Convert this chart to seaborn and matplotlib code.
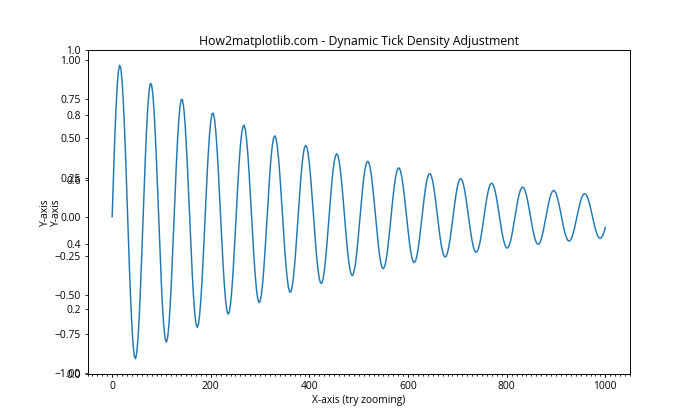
import pandas as pd
import matplotlib
matplotlib.use("Agg")
import matplotlib.pyplot as plt
from matplotlib.ticker import MultipleLocator
import seaborn as sns

#### DATA

# samples at x = 0, 5, 10, ... 1000
x_grid = list(range(0, 1001, 5))
y_grid = [
    0.000, 0.475, 0.825, 0.968, 0.874, 0.569, 0.133, -0.327, -0.699, -0.893,
    -0.868, -0.632, -0.248, 0.189, 0.571, 0.807, 0.843, 0.674, 0.344, -0.062,
    -0.445, -0.713, -0.803, -0.696, -0.422, -0.052, 0.324, 0.614, 0.749, 0.700,
    0.482, 0.152, -0.209, -0.512, -0.684, -0.688, -0.524, -0.237, 0.103, 0.410,
    0.612, 0.662, 0.550, 0.307, -0.006, -0.311, -0.534, -0.624, -0.560, -0.362,
    -0.080, 0.216, 0.453, 0.576, 0.557, 0.404, 0.155, -0.127, -0.372, -0.522,
    -0.542, -0.431, -0.217, 0.045, 0.291, 0.461, 0.517, 0.446, 0.268, 0.029,
    -0.212, -0.397, -0.483, -0.449, -0.307, -0.093, 0.139, 0.332, 0.442, 0.442,
    0.335, 0.149, -0.070, -0.267, -0.396, -0.426, -0.352, -0.194, 0.007, 0.203,
    0.346, 0.402, 0.359, 0.230, 0.048, -0.142, -0.294, -0.372, -0.358, -0.258,
    -0.097, 0.085, 0.242, 0.337, 0.349, 0.276, 0.137, -0.032, -0.190, -0.299,
    -0.333, -0.286, -0.170, -0.016, 0.140, 0.258, 0.311, 0.288, 0.196, 0.058,
    -0.092, -0.216, -0.285, -0.284, -0.214, -0.093, 0.048, 0.174, 0.256, 0.274,
    0.225, 0.123, -0.007, -0.133, -0.224, -0.259, -0.230, -0.147, -0.029, 0.094,
    0.191, 0.240, 0.230, 0.164, 0.060, -0.057, -0.157, -0.218, -0.224, -0.176,
    -0.087, 0.022, 0.124, 0.193, 0.214, 0.183, 0.108, 0.008, -0.092, -0.167,
    -0.201, -0.185, -0.125, -0.035, 0.061, 0.140, 0.184, 0.183, 0.137, 0.059,
    -0.032, -0.113, -0.165, -0.176, -0.144, -0.078, 0.006, 0.087, 0.145, 0.167,
    0.148, 0.093, 0.017, -0.062, -0.124, -0.155, -0.148, -0.105, -0.037, 0.038,
    0.102, 0.141, 0.144, 0.113, 0.055, -0.016, -0.081, -0.125, -0.138, -0.117,
    -0.069,
]

# samples in between, at x = 2.5, 7.5, ... 997.5
x_mid = [x + 2.5 for x in range(0, 1000, 5)]
y_mid = [
    0.246, 0.672, 0.926, 0.950, 0.744, 0.361, -0.101, -0.530, -0.822, -0.909,
    -0.774, -0.453, -0.029, 0.393, 0.712, 0.852, 0.782, 0.525, 0.145, -0.263,
    -0.598, -0.783, -0.773, -0.576, -0.244, 0.141, 0.485, 0.704, 0.748, 0.609,
    0.326, -0.030, -0.373, -0.618, -0.708, -0.625, -0.392, -0.068, 0.266, 0.528,
    0.658, 0.625, 0.442, 0.155, -0.164, -0.437, -0.598, -0.611, -0.475, -0.227,
    0.071, 0.346, 0.531, 0.585, 0.496, 0.288, 0.014, -0.258, -0.462, -0.549,
    -0.502, -0.334, -0.088, 0.174, 0.389, 0.505, 0.497, 0.368, 0.153, -0.095,
    -0.315, -0.454, -0.481, -0.390, -0.206, 0.024, 0.244, 0.400, 0.456, 0.401,
    0.249, 0.040, -0.174, -0.342, -0.424, -0.401, -0.281, -0.096, 0.109, 0.284,
    0.386, 0.393, 0.304, 0.143, -0.049, -0.225, -0.344, -0.377, -0.318, -0.183,
    -0.006, 0.169, 0.299, 0.354, 0.322, 0.213, 0.054, -0.115, -0.253, -0.326,
    -0.319, -0.235, -0.096, 0.064, 0.206, 0.294, 0.309, 0.250, 0.131, -0.018,
    -0.159, -0.259, -0.294, -0.257, -0.158, -0.023, 0.115, 0.222, 0.274, 0.257,
    0.179, 0.060, -0.073, -0.185, -0.249, -0.252, -0.194, -0.091, 0.034, 0.147,
    0.223, 0.243, 0.203, 0.115, 0.001, -0.111, -0.194, -0.228, -0.206, -0.135,
    -0.033, 0.076, 0.164, 0.210, 0.205, 0.150, 0.060, -0.044, -0.134, -0.190,
    -0.199, -0.160, -0.082, 0.014, 0.104, 0.167, 0.189, 0.165, 0.101, 0.014,
    -0.075, -0.144, -0.176, -0.165, -0.114, -0.037, 0.048, 0.120, 0.161, 0.163,
    0.124, 0.057, -0.023, -0.096, -0.144, -0.156, -0.130, -0.073, 0.001, 0.072,
    0.125, 0.147, 0.133, 0.087, 0.020, -0.050, -0.106, -0.136, -0.132, -0.096,
]

df = pd.DataFrame({'x': x_grid + x_mid, 'y': y_grid + y_mid}).sort_values('x')

plt.rcParams['font.family'] = ['Open Sans', 'DejaVu Sans']
plt.rcParams['font.size'] = 10.5

#### PLOT

fig, ax = plt.subplots(figsize=(10, 6), dpi=70)
sns.lineplot(data=df, x='x', y='y', ax=ax, color='#1f77b4', linewidth=1.5)

ax.set_ylim(-1.005, 1.063)
ax.xaxis.set_major_locator(MultipleLocator(200))
ax.xaxis.set_minor_locator(MultipleLocator(10))

ax.set_title("How2matplotlib.com - Dynamic Tick Density Adjustment", fontsize=12.6)
ax.set_xlabel("X-axis (try zooming)")
ax.set_ylabel("Y-axis")

# second (empty) axes stacked on top, with its own 0-1 y scale
ax2 = fig.add_axes(ax.get_position(), sharex=ax, facecolor='none')
ax2.set_ylabel("Y-axis")
ax2.tick_params(labelbottom=False)

fig.savefig("out.png", dpi=70)
